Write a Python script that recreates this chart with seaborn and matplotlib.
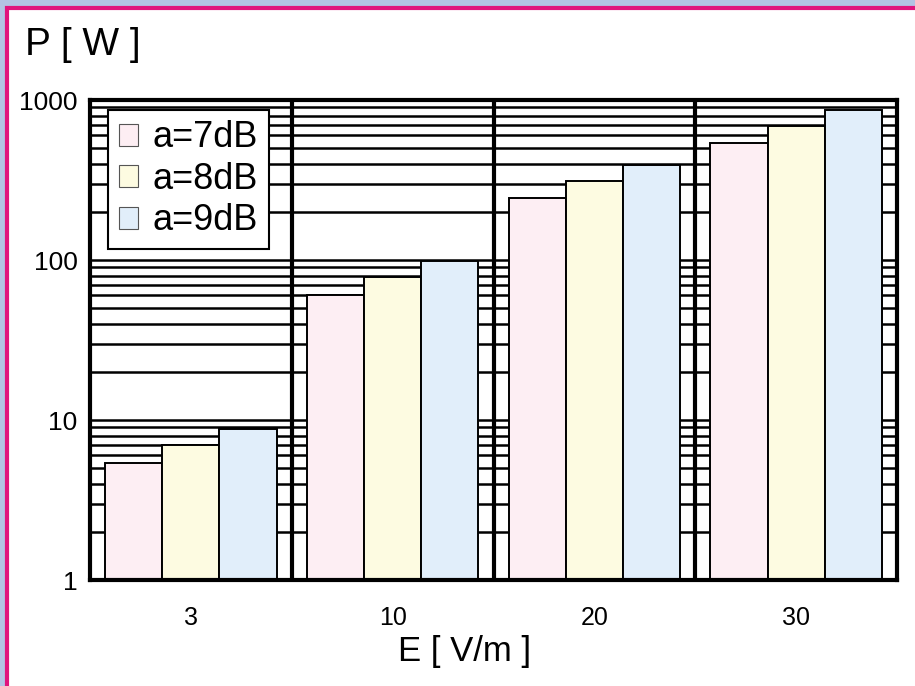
import matplotlib
matplotlib.use('Agg')
import matplotlib.pyplot as plt
from matplotlib.patches import Rectangle, Patch
from matplotlib.ticker import LogLocator, NullFormatter, FixedLocator, FixedFormatter
import seaborn as sns
import pandas as pd

# data
field = ['3', '10', '20', '30']
p_7db = [5.4, 60, 245, 535]
p_8db = [7.0, 78, 310, 690]
p_9db = [8.8, 98, 390, 870]
series = ['a=7dB', 'a=8dB', 'a=9dB']
colors = ['#fdeef3', '#fdfbe1', '#e1eefa']

df = pd.DataFrame({
    'E': field * 3,
    'P': p_7db + p_8db + p_9db,
    'a': [s for s in series for _ in field],
})

sns.set_theme(style='white')
plt.rcParams['font.family'] = ['Liberation Sans', 'DejaVu Sans']
plt.rcParams['text.color'] = 'black'
plt.rcParams['xtick.color'] = 'black'
plt.rcParams['ytick.color'] = 'black'

fig = plt.figure(figsize=(9.15, 6.86), dpi=100)
fig.patch.set_facecolor('#b3c3e3')
# white panel with magenta frame
fig.patches.append(Rectangle((6.5/915, -0.05), 1.0, 1 - 8.5/686 + 0.05, transform=fig.transFigure,
                             facecolor='white', edgecolor='#e0147c', linewidth=3, zorder=-1))

ax = fig.add_axes([90/915, 1 - 580/686, (897 - 90)/915, (580 - 100)/686])
ax.set_zorder(2)
ax.set_facecolor('white')

sns.barplot(data=df, x='E', y='P', hue='a', palette=colors, width=0.85, gap=0,
            edgecolor='black', linewidth=1.4, saturation=1, ax=ax, legend=False)

ax.set_yscale('log')
ax.set_ylim(1, 1000)
ax.set_xlim(-0.5, 3.5)
ax.yaxis.set_major_locator(FixedLocator([1, 10, 100, 1000]))
ax.yaxis.set_major_formatter(FixedFormatter(['1', '10', '100', '1000']))
ax.yaxis.set_minor_locator(LogLocator(base=10, subs=range(2, 10)))
ax.yaxis.set_minor_formatter(NullFormatter())
ax.set_axisbelow(True)
ax.grid(axis='y', which='both', color='black', linewidth=1.8)
for xv in [0.5, 1.5, 2.5]:
    ax.axvline(xv, color='black', linewidth=3, zorder=0.5)

for s in ax.spines.values():
    s.set_color('black')
    s.set_linewidth(3)
    s.set_visible(True)

ax.tick_params(axis='both', which='both', length=0)
ax.tick_params(axis='x', pad=19, labelsize=18)
ax.tick_params(axis='y', pad=9, labelsize=19)
ax.set_xlabel('')
ax.set_ylabel('')

handles = [Patch(facecolor=c, edgecolor='#555555', linewidth=0.8) for c in colors]
leg = ax.legend(handles, series, loc='upper left', bbox_to_anchor=(0.022, 0.98),
                fontsize=26, frameon=True, fancybox=False, framealpha=1,
                edgecolor='black', handlelength=0.55, handleheight=0.55,
                handletextpad=0.4, labelspacing=0.18, borderpad=0.3, borderaxespad=0)
leg.get_frame().set_linewidth(1.5)

fig.text(25/915, 1 - 45/686, 'P [ W ]', fontsize=28, va='center', ha='left')
fig.text(465/915, 1 - 652/686, 'E [ V/m ]', fontsize=25, va='center', ha='center')

fig.savefig('out.png', dpi=100, facecolor=fig.get_facecolor())
